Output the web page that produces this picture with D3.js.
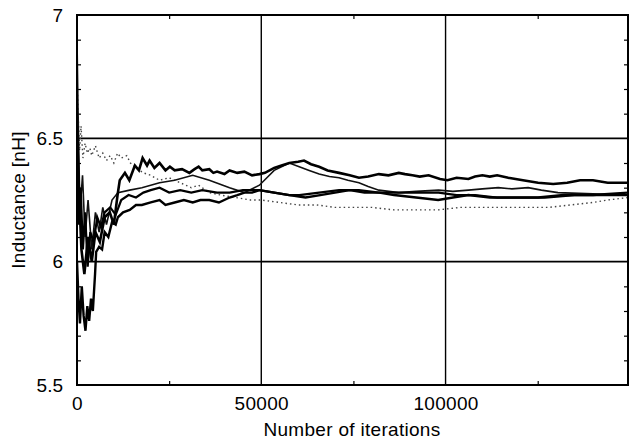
<!DOCTYPE html>
<html>
<head>
<meta charset="utf-8">
<script src="https://cdn.jsdelivr.net/npm/d3@7"></script>
<style>
  body { margin: 0; background: #fff; }
  text { font-family: "Liberation Sans", Arial, Helvetica, sans-serif; }
</style>
</head>
<body>
<div id="chart"></div>
<script>
// tick labels
var xTicks = [0, 50000, 100000];
var yTicks = [5.5, 6, 6.5, 7];
var xGrid = [50000, 100000];
var yGrid = [6, 6.5];
var xMinor = [25000, 75000, 125000];
var yMinor = [5.6, 5.7, 5.8, 5.9, 6.1, 6.2, 6.3, 6.4, 6.6, 6.7, 6.8, 6.9];

// series values: [iterations, inductance nH]
var seriesA = [[0,6.55],[500,6.3],[1200,6.05],[2000,5.95],[3000,6.1],[4000,6.0],[5000,6.12],[6200,6.08],[7500,6.18],[8900,6.2],[10000,6.15],[11000,6.27],[11600,6.33],[13000,6.36],[14200,6.33],[15700,6.39],[16800,6.37],[17800,6.42],[19000,6.39],[19700,6.41],[21000,6.38],[22400,6.40],[24000,6.37],[25200,6.385],[26500,6.37],[28500,6.375],[30500,6.36],[31900,6.375],[33000,6.385],[34000,6.37],[35900,6.375],[37000,6.36],[38000,6.365],[40000,6.355],[41400,6.37],[43500,6.36],[45400,6.365],[47500,6.35],[49500,6.355],[51000,6.36],[53500,6.38],[55500,6.39],[57600,6.40],[60000,6.405],[61600,6.41],[63500,6.395],[65700,6.385],[68000,6.37],[71100,6.36],[74000,6.35],[76500,6.34],[79000,6.345],[81900,6.355],[84500,6.35],[87300,6.36],[89000,6.355],[91000,6.35],[93000,6.345],[95400,6.35],[98500,6.335],[100500,6.33],[103000,6.34],[106200,6.335],[108000,6.345],[110000,6.35],[112000,6.345],[114000,6.35],[117000,6.34],[121000,6.33],[125100,6.32],[129200,6.315],[133000,6.32],[136500,6.33],[140000,6.33],[144000,6.32],[149500,6.32]];

var seriesB = [[0,6.9],[300,6.6],[800,6.2],[1500,6.35],[2200,6.1],[3000,6.25],[4000,6.05],[5000,6.2],[6000,6.12],[7000,6.22],[8000,6.15],[9500,6.25],[11100,6.28],[14300,6.29],[17600,6.30],[22400,6.32],[26500,6.33],[31400,6.35],[35900,6.33],[41400,6.30],[45400,6.28],[49500,6.31],[53500,6.37],[57600,6.40],[60300,6.385],[63000,6.37],[65700,6.355],[68500,6.345],[71100,6.34],[73500,6.33],[76500,6.32],[79000,6.305],[81900,6.29],[87300,6.28],[92000,6.285],[98100,6.29],[102000,6.285],[106200,6.29],[110000,6.295],[114300,6.30],[118000,6.295],[122400,6.30],[126000,6.29],[130500,6.28],[140000,6.275],[149500,6.27]];

var seriesC = [[0,6.0],[400,5.85],[800,5.75],[1300,5.9],[1800,5.78],[2300,5.72],[2800,5.82],[3300,5.76],[3800,5.85],[4300,5.8],[4900,5.95],[5200,6.04],[6000,6.06],[6800,6.05],[7500,6.12],[8500,6.1],[9500,6.16],[10500,6.15],[11100,6.18],[12500,6.2],[14300,6.21],[16000,6.23],[17600,6.23],[20000,6.24],[22400,6.25],[24000,6.23],[26500,6.24],[29000,6.25],[31400,6.24],[33500,6.25],[35900,6.25],[38500,6.24],[41400,6.26],[43500,6.27],[45400,6.28],[47500,6.28],[49500,6.29],[53500,6.28],[57600,6.27],[62000,6.26],[66000,6.27],[70000,6.28],[74000,6.29],[78000,6.28],[82000,6.28],[86000,6.27],[92000,6.26],[98000,6.25],[102000,6.26],[106200,6.27],[112000,6.26],[118000,6.26],[125100,6.26],[132000,6.27],[140000,6.27],[149500,6.28]];

var seriesD = [[0,6.4],[500,6.15],[1000,6.3],[1600,6.05],[2200,6.2],[2900,5.98],[3600,6.12],[4500,6.08],[5500,6.18],[6500,6.14],[7500,6.2],[9000,6.22],[10500,6.19],[12000,6.25],[14000,6.27],[16000,6.26],[18000,6.28],[20000,6.29],[22400,6.30],[25000,6.28],[28000,6.29],[31000,6.28],[34000,6.29],[38000,6.28],[41400,6.28],[45000,6.29],[49500,6.29],[53500,6.28],[57600,6.27],[60300,6.27],[65700,6.28],[71100,6.29],[76500,6.29],[81900,6.28],[87300,6.28],[93000,6.28],[98100,6.28],[103000,6.27],[108000,6.27],[114000,6.26],[120000,6.26],[127000,6.26],[135000,6.27],[142000,6.27],[149500,6.27]];

var seriesE = [[0,6.75],[300,6.6],[700,6.45],[1100,6.55],[1600,6.42],[2200,6.48],[2800,6.44],[3500,6.46],[4000,6.43],[5000,6.47],[6000,6.42],[7000,6.44],[8000,6.41],[9000,6.43],[10000,6.40],[11000,6.44],[12000,6.42],[13500,6.43],[14500,6.40],[16000,6.38],[18000,6.36],[20000,6.35],[22400,6.33],[25000,6.34],[28000,6.32],[31000,6.30],[33000,6.31],[35900,6.28],[39000,6.27],[43000,6.26],[47000,6.25],[50000,6.25],[55000,6.24],[60000,6.23],[65000,6.23],[70000,6.22],[75000,6.22],[80000,6.22],[86000,6.21],[92000,6.21],[98000,6.21],[104000,6.22],[110000,6.22],[116000,6.22],[122000,6.22],[128000,6.22],[134000,6.23],[140000,6.24],[144000,6.25],[149500,6.26]];

var margin = {top: 15, right: 1, bottom: 58, left: 77},
    width = 629 - margin.left - margin.right,
    height = 443 - margin.top - margin.bottom;

var svg = d3.select("#chart")
    .append("svg")
        .attr("width", width + margin.left + margin.right)
        .attr("height", height + margin.top + margin.bottom)
    .append("g")
        .attr("transform", "translate(" + margin.left + "," + margin.top + ")");

var xScale = d3.scaleLinear()
    .domain([0, 149500])
    .range([0, width]);

var yScale = d3.scaleLinear()
    .domain([5.5, 7])
    .range([height, 0]);

// grid lines
svg.append("g")
    .selectAll("line.hgrid")
    .data(yGrid)
    .enter()
    .append("line")
        .attr("x1", 0)
        .attr("x2", width)
        .attr("y1", d => yScale(d))
        .attr("y2", d => yScale(d))
        .attr("stroke", "#000")
        .attr("stroke-width", 1.6);

svg.append("g")
    .selectAll("line.vgrid")
    .data(xGrid)
    .enter()
    .append("line")
        .attr("x1", d => xScale(d))
        .attr("x2", d => xScale(d))
        .attr("y1", 0)
        .attr("y2", height)
        .attr("stroke", "#000")
        .attr("stroke-width", 1.4);

// minor ticks, pointing inward
function minor(g) { g.select(".domain").remove(); g.selectAll("line").attr("stroke", "#000").attr("stroke-width", 1.2); }
svg.append("g").call(d3.axisLeft(yScale).tickValues(yMinor).tickSize(-4).tickFormat("")).call(minor);
svg.append("g").attr("transform", "translate(" + width + ",0)")
    .call(d3.axisRight(yScale).tickValues(yMinor).tickSize(-4).tickFormat("")).call(minor);
svg.append("g").attr("transform", "translate(0," + height + ")")
    .call(d3.axisBottom(xScale).tickValues(xMinor).tickSize(-4).tickFormat("")).call(minor);
svg.append("g")
    .call(d3.axisTop(xScale).tickValues(xMinor).tickSize(-4).tickFormat("")).call(minor);

// lines
svg.append("clipPath").attr("id", "clip")
    .append("rect").attr("width", width).attr("height", height);

var line = d3.line()
    .x(d => xScale(d[0]))
    .y(d => yScale(d[1]));

var plot = svg.append("g").attr("clip-path", "url(#clip)");

plot.append("path").datum(seriesE)
    .attr("d", line).attr("fill", "none")
    .attr("stroke", "#444").attr("stroke-width", 1.4)
    .attr("stroke-dasharray", "1.5,3");

plot.append("path").datum(seriesB)
    .attr("d", line).attr("fill", "none")
    .attr("stroke", "#111").attr("stroke-width", 1.6);

plot.append("path").datum(seriesD)
    .attr("d", line).attr("fill", "none")
    .attr("stroke", "#000").attr("stroke-width", 2.2);

plot.append("path").datum(seriesC)
    .attr("d", line).attr("fill", "none")
    .attr("stroke", "#000").attr("stroke-width", 2.4);

plot.append("path").datum(seriesA)
    .attr("d", line).attr("fill", "none")
    .attr("stroke", "#000").attr("stroke-width", 2.6);

// frame
svg.append("rect")
    .attr("width", width)
    .attr("height", height)
    .attr("fill", "none")
    .attr("stroke", "#000")
    .attr("stroke-width", 2);

// tick labels
var xAxis = svg.append("g")
    .attr("transform", "translate(0," + height + ")")
    .call(d3.axisBottom(xScale).tickValues(xTicks).tickSize(0).tickPadding(12).tickFormat(d => String(d)));
xAxis.select(".domain").remove();
xAxis.selectAll("text").attr("font-size", "19px").attr("fill", "#000").attr("letter-spacing", "0.3px")
    .attr("font-family", "'Liberation Sans', Arial, sans-serif");

var yAxis = svg.append("g")
    .call(d3.axisLeft(yScale).tickValues(yTicks).tickSize(0).tickPadding(14).tickFormat(d => String(d)));
yAxis.select(".domain").remove();
yAxis.selectAll("text").attr("font-size", "19px").attr("fill", "#000")
    .attr("font-family", "'Liberation Sans', Arial, sans-serif");

// axis titles
svg.append("text")
    .attr("x", 352 - margin.left)
    .attr("y", 436 - margin.top)
    .attr("text-anchor", "middle")
    .attr("font-size", "19px")
    .attr("letter-spacing", "0.3px")
    .attr("fill", "#000")
    .text("Number of iterations");

svg.append("text")
    .attr("transform", "rotate(-90)")
    .attr("x", -(200 - margin.top))
    .attr("y", 25 - margin.left)
    .attr("text-anchor", "middle")
    .attr("font-size", "19px")
    .attr("letter-spacing", "0.3px")
    .attr("fill", "#000")
    .text("Inductance [nH]");
</script>
</body>
</html>
